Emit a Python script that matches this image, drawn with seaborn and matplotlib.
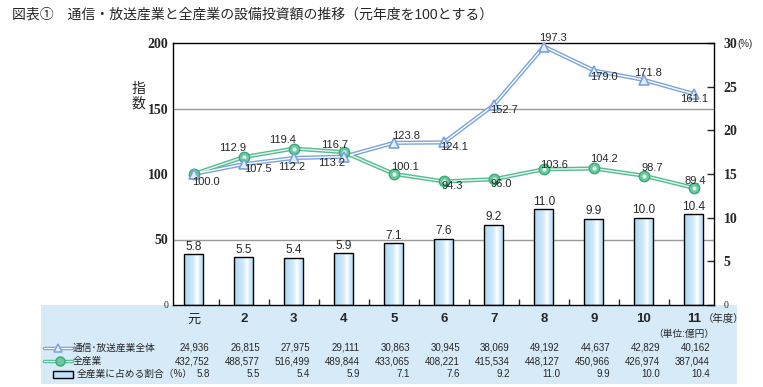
import numpy as np
import pandas as pd
import matplotlib
matplotlib.use("Agg")
import matplotlib.pyplot as plt
import matplotlib.transforms as mtransforms
from matplotlib.colors import LinearSegmentedColormap
from matplotlib.lines import Line2D
from matplotlib.patches import Rectangle
import seaborn as sns

# data
years = ["元", "2", "3", "4", "5", "6", "7", "8", "9", "10", "11"]
telecom_index = [100.0, 107.5, 112.2, 113.2, 123.8, 124.1, 152.7, 197.3, 179.0, 171.8, 161.1]
all_index = [100.0, 112.9, 119.4, 116.7, 100.1, 94.3, 96.0, 103.6, 104.2, 98.7, 89.4]
share = [5.8, 5.5, 5.4, 5.9, 7.1, 7.6, 9.2, 11.0, 9.9, 10.0, 10.4]
telecom_amt = [24936, 26815, 27975, 29111, 30863, 30945, 38069, 49192, 44637, 42829, 40162]
all_amt = [432752, 488577, 516499, 489844, 433065, 408221, 415534, 448127, 450966, 426974, 387044]

# label offsets in pixels (dx, dy)
telecom_off = [(12, -8), (14, -5), (-2, -9), (-12, -6), (12, 7), (10, -5),
               (10, -5), (9, 9), (10, -6), (4, 7), (0, -5)]
all_off = [None, (-11, 9), (-11, 9), (-9, 7), (11, 7), (8, -5),
           (7, -5), (10, 4), (10, 9), (8, 8), (1, 7)]

sns.set_style("white")
plt.rcParams["font.family"] = ["Liberation Sans", "Noto Sans CJK JP"]

blue = "#7aa3de"
green = "#55bd91"
panel = "#d6eaf8"

df = pd.DataFrame({"year": years, "share": share})
pos = np.arange(len(years))

W, H = 763, 387
fig = plt.figure(figsize=(W / 100, H / 100), dpi=100)

# light blue table panel under the chart
fig.add_artist(Rectangle((41 / W, 1 - 384 / H), (737 - 41) / W, (384 - 305) / H,
                         transform=fig.transFigure, facecolor=panel,
                         edgecolor="none", zorder=-1))

axb = fig.add_axes([172.7 / W, 1 - 305 / H, (714 - 172.7) / W, (305 - 43) / H])
axl = axb.twinx()

sns.barplot(data=df, x="year", y="share", ax=axb, color="#a9d5f3",
            edgecolor="black", linewidth=1.0, width=0.38, saturation=1)

# gradient fill for the bars
grad = np.linspace(0, 1, 256).reshape(1, -1)
cmap = LinearSegmentedColormap.from_list(
    "bar", [(0, "#acd8f5"), (0.45, "#cfe9fa"), (0.66, "#ffffff"),
            (0.8, "#d2ebfb"), (1, "#add9f6")])
for p in axb.patches:
    x0, y0, w, h = p.get_x(), p.get_y(), p.get_width(), p.get_height()
    im = axb.imshow(grad, extent=[x0, x0 + w, y0, y0 + h], aspect="auto",
                    cmap=cmap, zorder=2)
    im.set_clip_path(p)
    p.set_facecolor("none")
    p.set_zorder(3)

axb.bar_label(axb.containers[0], fmt="%.1f", padding=1, fontsize=8.5, zorder=4)

axb.set_xlim(-0.42, len(years) - 0.6)
axb.set_ylim(0, 30)
axb.set_xlabel("")
axb.set_ylabel("")
axb.yaxis.tick_right()
axb.set_yticks(range(0, 31, 5))
axb.tick_params(axis="y", which="major", direction="in", length=5, width=1,
                pad=7, labelsize=10, left=False, labelleft=False,
                right=True, labelright=True)
for lab in axb.get_yticklabels():
    lab.set_family("Liberation Serif")
    lab.set_fontweight("bold")
axb.get_yticklabels()[0].set_fontsize(7)
axb.get_yticklabels()[0].set_fontweight("normal")

# grid at 50/100/150 of the index scale, drawn behind the bars
axb.set_yticks([v * 30 / 200 for v in (50, 100, 150)], minor=True)
axb.tick_params(axis="y", which="minor", length=0)
axb.grid(axis="y", which="minor", color="#999999", lw=1)
axb.set_axisbelow(True)

axb.set_xticks(pos)
axb.set_xticklabels(years)
axb.set_xticks(pos[:-1] + 0.5, minor=True)
axb.tick_params(axis="x", which="major", length=0, pad=6, labelsize=9.5)
axb.tick_params(axis="x", which="minor", direction="in", length=4, width=1,
                bottom=True)
for lab in axb.get_xticklabels():
    lab.set_fontweight("bold")
axb.get_xticklabels()[0].set_fontweight("normal")
for s in axb.spines.values():
    s.set_color("black")
    s.set_linewidth(1)

# index lines
sns.lineplot(x=pos, y=telecom_index, ax=axl, color=blue, lw=3, zorder=3)
axl.plot(pos, telecom_index, color="white", lw=1, zorder=4)
sns.lineplot(x=pos, y=all_index, ax=axl, color=green, lw=3, zorder=3)
axl.plot(pos, all_index, color="#e6f6ee", lw=1, zorder=4)
axl.plot(pos, all_index, ls="none", marker="o", ms=7.5, mfc="#6cc89e",
         mec="#3aa97b", mew=1, zorder=5)
axl.plot(pos, all_index, ls="none", marker="o", ms=3, mfc="#dff6ea",
         mec="none", zorder=5.5)
axl.plot(pos, telecom_index, ls="none", marker="^", ms=7, mfc="#e4edfa",
         mec=blue, mew=1.2, zorder=6)

for i, v in enumerate(telecom_index):
    axl.annotate(f"{v:.1f}", (i, v), xytext=telecom_off[i], textcoords="offset pixels",
                 ha="center", va="center", fontsize=8, zorder=7)
for i, v in enumerate(all_index):
    if all_off[i] is None:
        continue
    axl.annotate(f"{v:.1f}", (i, v), xytext=all_off[i], textcoords="offset pixels",
                 ha="center", va="center", fontsize=8, zorder=7)

axl.set_ylim(0, 200)
axl.set_xlim(-0.42, len(years) - 0.6)
axl.yaxis.tick_left()
axl.set_yticks(range(0, 201, 50))
axl.tick_params(axis="y", length=0, pad=3, labelsize=10, left=True, labelleft=True,
                right=False, labelright=False)
for lab in axl.get_yticklabels():
    lab.set_family("Liberation Serif")
    lab.set_fontweight("bold")
axl.get_yticklabels()[0].set_fontsize(7)
axl.get_yticklabels()[0].set_fontweight("normal")
axl.set_xlabel("")
axl.set_ylabel("")
for s in axl.spines.values():
    s.set_visible(False)

# texts around the chart
fig.text(12 / W, 1 - 15 / H,
         "図表①　通信・放送産業と全産業の設備投資額の推移（元年度を100とする）",
         fontsize=10, va="center", ha="left")
fig.text(138 / W, 1 - 96 / H, "指\n数", fontsize=10, ha="center", va="center",
         linespacing=1.05)
fig.text(737 / W, 1 - 44 / H, "(%)", fontsize=7, ha="left", va="center")
fig.text(703 / W, 1 - 319 / H, "（年度）", fontsize=7.5, ha="left", va="center")
fig.text(684 / W, 1 - 334 / H, "（単位:億円）", fontsize=7, ha="center", va="center")

# table rows
tr = mtransforms.blended_transform_factory(axb.transData, fig.transFigure)
rows_y = [1 - 348 / H, 1 - 361 / H, 1 - 374 / H]
for i in range(len(years)):
    axb.text(i + 0.32, rows_y[0], f"{telecom_amt[i]:,}", transform=tr, ha="right",
             va="center", fontsize=7, clip_on=False)
    axb.text(i + 0.32, rows_y[1], f"{all_amt[i]:,}", transform=tr, ha="right",
             va="center", fontsize=7, clip_on=False)
    axb.text(i + 0.32, rows_y[2], f"{share[i]:.1f}", transform=tr, ha="right",
             va="center", fontsize=7, clip_on=False)

# legend inside the table
ft = fig.transFigure
fig.add_artist(Line2D([44 / W, 72 / W], [rows_y[0]] * 2, transform=ft, color=blue, lw=2.5))
fig.add_artist(Line2D([44 / W, 72 / W], [rows_y[0]] * 2, transform=ft, color="white", lw=0.8))
fig.add_artist(Line2D([58 / W], [rows_y[0]], transform=ft, ls="none", marker="^", ms=6,
                      mfc="#e4edfa", mec=blue, mew=1.1))
fig.add_artist(Line2D([44 / W, 72 / W], [rows_y[1]] * 2, transform=ft, color=green, lw=2.5))
fig.add_artist(Line2D([44 / W, 72 / W], [rows_y[1]] * 2, transform=ft, color="#e6f6ee", lw=0.8))
fig.add_artist(Line2D([60 / W], [rows_y[1]], transform=ft, ls="none", marker="o", ms=6.5,
                      mfc="#6cc89e", mec="#3aa97b", mew=1))
fig.add_artist(Rectangle((53 / W, rows_y[2] - 3.5 / H), 20 / W, 7 / H, transform=ft,
                         facecolor="#bfe2f8", edgecolor="black", lw=1))
fig.text(73 / W, rows_y[0], "通信･放送産業全体", fontsize=7, ha="left", va="center")
fig.text(73 / W, rows_y[1], "全産業", fontsize=7, ha="left", va="center")
fig.text(77 / W, rows_y[2], "全産業に占める割合（%）", fontsize=7, ha="left", va="center")

fig.savefig("out.png", dpi=100, facecolor="white")
